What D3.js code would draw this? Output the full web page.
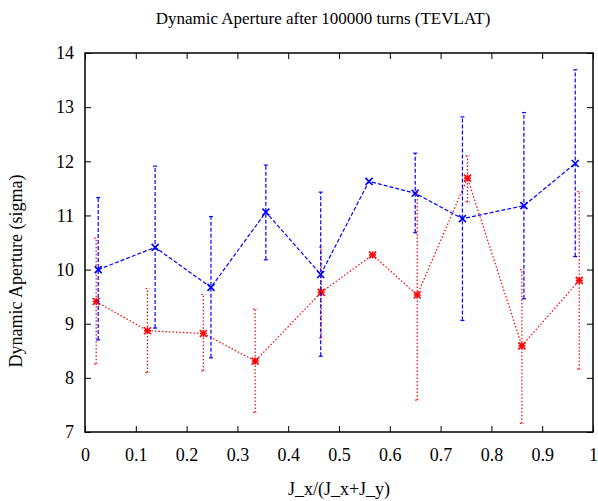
<!DOCTYPE html>
<html>
<head>
<meta charset="utf-8">
<script src="https://cdn.jsdelivr.net/npm/d3@7.9.0/dist/d3.min.js"></script>
<style>
  body { margin: 0; background: #fff; }
</style>
</head>
<body>
<svg id="chart" width="598" height="501"></svg>
<script>
// data
const xTicks = [0, 0.1, 0.2, 0.3, 0.4, 0.5, 0.6, 0.7, 0.8, 0.9, 1];
const yTicks = [7, 8, 9, 10, 11, 12, 13, 14];

// blue series (crosses, dashed)
const blueX  = [0.026, 0.138, 0.248, 0.356, 0.464, 0.559, 0.650, 0.743, 0.864, 0.965];
const blueY  = [10.00, 10.41, 9.67, 11.06, 9.91, 11.63, 11.41, 10.94, 11.18, 11.96];
const blueLo = [8.70, 8.92, 8.37, 10.18, 8.40, 11.63, 10.68, 9.06, 9.46, 10.24];
const blueHi = [11.33, 11.91, 10.98, 11.93, 11.43, 11.63, 12.15, 12.82, 12.90, 13.69];

// red series (stars, dotted)
const redX  = [0.022, 0.123, 0.233, 0.335, 0.465, 0.566, 0.654, 0.753, 0.860, 0.973];
const redY  = [9.41, 8.87, 8.82, 8.31, 9.58, 10.27, 9.53, 11.69, 8.59, 9.80];
const redLo = [8.26, 8.10, 8.13, 7.36, 8.74, 10.27, 7.59, 11.25, 7.16, 8.16];
const redHi = [10.58, 9.65, 9.54, 9.27, 10.42, 10.27, 11.47, 12.10, 10.00, 11.44];

const FONT = '"Liberation Serif", "Times New Roman", Times, "DejaVu Serif", serif';

const svg = d3.select('#chart');
const plotL = 85, plotR = 593, plotT = 53, plotB = 432;

const x = d3.scaleLinear().domain([0, 1]).range([plotL, plotR]);
const y = d3.scaleLinear().domain([7, 14]).range([plotB, plotT]);

// ticks (inside, mirrored on top and right)
svg.append('g').attr('transform', `translate(0,${plotB})`)
  .call(d3.axisBottom(x).tickValues(xTicks).tickSize(-6).tickFormat(d3.format('')))
  .call(g => g.select('.domain').remove())
  .call(g => g.selectAll('text').attr('dy', '1.45em')
    .style('font-family', FONT).style('font-size', '18px'));
svg.append('g').attr('transform', `translate(0,${plotT})`)
  .call(d3.axisTop(x).tickValues(xTicks).tickSize(-6).tickFormat(''))
  .call(g => g.select('.domain').remove());
svg.append('g').attr('transform', `translate(${plotL},0)`)
  .call(d3.axisLeft(y).tickValues(yTicks).tickSize(-6).tickFormat(d3.format('d')))
  .call(g => g.select('.domain').remove())
  .call(g => g.selectAll('text').attr('x', -11)
    .style('font-family', FONT).style('font-size', '18px'));
svg.append('g').attr('transform', `translate(${plotR},0)`)
  .call(d3.axisRight(y).tickValues(yTicks).tickSize(-6).tickFormat(''))
  .call(g => g.select('.domain').remove());

svg.append('rect')
  .attr('x', plotL).attr('y', plotT)
  .attr('width', plotR - plotL).attr('height', plotB - plotT)
  .attr('fill', 'none').attr('stroke', '#000').attr('stroke-width', 1.5);

function drawSeries(xs, ys, lo, hi, color, dash, marker) {
  const pts = xs.map((d, i) => ({ x: d, y: ys[i], lo: lo[i], hi: hi[i] }));
  const g = svg.append('g');

  // error bars
  const eb = g.selectAll('.eb').data(pts.filter(d => d.hi > d.lo)).enter().append('g')
    .attr('stroke', color).attr('stroke-width', 1.2).attr('stroke-dasharray', dash);
  eb.append('line')
    .attr('x1', d => x(d.x)).attr('x2', d => x(d.x))
    .attr('y1', d => y(d.lo)).attr('y2', d => y(d.hi));
  eb.append('line')
    .attr('x1', d => x(d.x) - 2).attr('x2', d => x(d.x) + 2)
    .attr('y1', d => y(d.lo)).attr('y2', d => y(d.lo)).attr('stroke-dasharray', null);
  eb.append('line')
    .attr('x1', d => x(d.x) - 2).attr('x2', d => x(d.x) + 2)
    .attr('y1', d => y(d.hi)).attr('y2', d => y(d.hi)).attr('stroke-dasharray', null);

  // connecting line
  g.append('path')
    .datum(pts)
    .attr('fill', 'none')
    .attr('stroke', color)
    .attr('stroke-width', 1.2)
    .attr('stroke-dasharray', dash)
    .attr('d', d3.line().x(d => x(d.x)).y(d => y(d.y)));

  // markers
  const s = 3.5;
  const m = g.selectAll('.m').data(pts).enter().append('g')
    .attr('transform', d => `translate(${x(d.x)},${y(d.y)})`)
    .attr('stroke', color).attr('stroke-width', 1.6);
  m.append('line').attr('x1', -s).attr('y1', -s).attr('x2', s).attr('y2', s);
  m.append('line').attr('x1', -s).attr('y1', s).attr('x2', s).attr('y2', -s);
  if (marker === 'star') {
    m.append('line').attr('x1', -s).attr('y1', 0).attr('x2', s).attr('y2', 0);
    m.append('line').attr('x1', 0).attr('y1', -s).attr('x2', 0).attr('y2', s);
  }
}

drawSeries(redX, redY, redLo, redHi, '#f00', '1.5,2', 'star');
drawSeries(blueX, blueY, blueLo, blueHi, '#00f', '4,2', 'cross');

// labels
svg.append('text')
  .attr('x', 323).attr('y', 24)
  .attr('text-anchor', 'middle')
  .style('font-family', FONT).style('font-size', '17px')
  .text('Dynamic Aperture after 100000 turns (TEVLAT)');
svg.append('text')
  .attr('x', 339).attr('y', 495)
  .attr('text-anchor', 'middle')
  .style('font-family', FONT).style('font-size', '18px')
  .text('J_x/(J_x+J_y)');
svg.append('text')
  .attr('transform', 'translate(22,271) rotate(-90)')
  .attr('text-anchor', 'middle')
  .style('font-family', FONT).style('font-size', '18px')
  .text('Dynamic Aperture (sigma)');
</script>
</body>
</html>
